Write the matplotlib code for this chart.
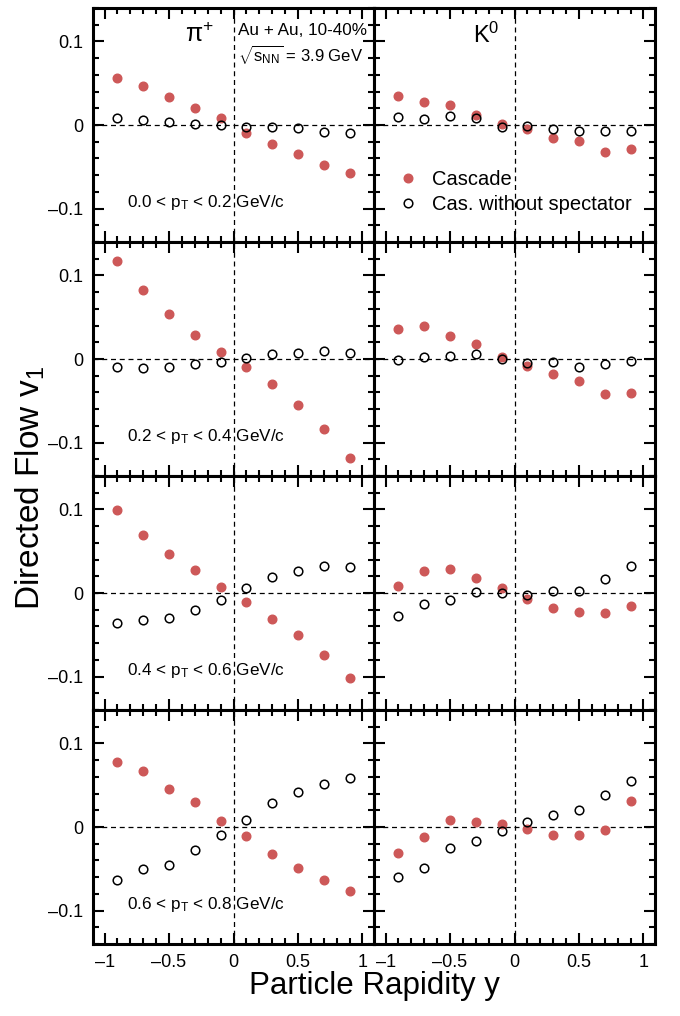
import matplotlib
matplotlib.use("Agg")
import matplotlib.pyplot as plt
from matplotlib.ticker import MultipleLocator, FuncFormatter

plt.rcParams['font.family'] = ['Liberation Sans', 'DejaVu Sans']
plt.rcParams['mathtext.fontset'] = 'custom'
plt.rcParams['mathtext.rm'] = 'Liberation Sans'
plt.rcParams['mathtext.it'] = 'Liberation Sans:italic'
plt.rcParams['mathtext.bf'] = 'Liberation Sans:bold'

# ---------------- data ----------------
rapidity = [-0.9, -0.7, -0.5, -0.3, -0.1, 0.1, 0.3, 0.5, 0.7, 0.9]
pt_bins = ["0.0 < p$_{\\rm T}$ < 0.2 GeV/c", "0.2 < p$_{\\rm T}$ < 0.4 GeV/c",
           "0.4 < p$_{\\rm T}$ < 0.6 GeV/c", "0.6 < p$_{\\rm T}$ < 0.8 GeV/c"]
particles = ["\u03c0$^{+}$", "K$^{0}$"]
series_labels = ["Cascade", "Cas. without spectator"]

# pi+ , Cascade (per pT bin)
pi_cas_pt0 = [0.0557, 0.0461, 0.0338, 0.0199, 0.0084, -0.0091, -0.0231, -0.0342, -0.0473, -0.0577]
pi_cas_pt1 = [0.1173, 0.0831, 0.0533, 0.0282, 0.0084, -0.0095, -0.0298, -0.0545, -0.0843, -0.1185]
pi_cas_pt2 = [0.0994, 0.0696, 0.0461, 0.0274, 0.0076, -0.0103, -0.0306, -0.0501, -0.0736, -0.1014]
pi_cas_pt3 = [0.0783, 0.0672, 0.0457, 0.0298, 0.0076, -0.0107, -0.0318, -0.0489, -0.0640, -0.0767]
# pi+ , Cascade without spectator
pi_nos_pt0 = [0.0087, 0.0060, 0.0040, 0.0016, 0.0000, -0.0020, -0.0024, -0.0040, -0.0080, -0.0100]
pi_nos_pt1 = [-0.0091, -0.0111, -0.0095, -0.0060, -0.0036, 0.0016, 0.0056, 0.0076, 0.0091, 0.0076]
pi_nos_pt2 = [-0.0362, -0.0318, -0.0302, -0.0207, -0.0083, 0.0060, 0.0191, 0.0258, 0.0326, 0.0314]
pi_nos_pt3 = [-0.0632, -0.0501, -0.0453, -0.0274, -0.0095, 0.0083, 0.0282, 0.0414, 0.0517, 0.0584]
# K0 , Cascade
k_cas_pt0 = [0.0350, 0.0270, 0.0235, 0.0120, 0.0016, -0.0050, -0.0155, -0.0187, -0.0318, -0.0282]
k_cas_pt1 = [0.0362, 0.0390, 0.0278, 0.0183, 0.0020, -0.0080, -0.0179, -0.0266, -0.0414, -0.0410]
k_cas_pt2 = [0.0083, 0.0258, 0.0286, 0.0179, 0.0056, -0.0072, -0.0183, -0.0223, -0.0235, -0.0159]
k_cas_pt3 = [-0.0310, -0.0115, 0.0083, 0.0064, 0.0040, -0.0028, -0.0095, -0.0095, -0.0040, 0.0310]
# K0 , Cascade without spectator
k_nos_pt0 = [0.0091, 0.0076, 0.0110, 0.0080, -0.0024, -0.0008, -0.0044, -0.0072, -0.0076, -0.0072]
k_nos_pt1 = [-0.0016, 0.0020, 0.0036, 0.0056, 0.0004, -0.0044, -0.0040, -0.0099, -0.0056, -0.0024]
k_nos_pt2 = [-0.0270, -0.0135, -0.0080, 0.0016, -0.0004, -0.0020, 0.0024, 0.0024, 0.0167, 0.0322]
k_nos_pt3 = [-0.0600, -0.0489, -0.0250, -0.0163, -0.0044, 0.0064, 0.0143, 0.0203, 0.0378, 0.0549]

cascade = [[pi_cas_pt0, k_cas_pt0], [pi_cas_pt1, k_cas_pt1],
           [pi_cas_pt2, k_cas_pt2], [pi_cas_pt3, k_cas_pt3]]
nospec = [[pi_nos_pt0, k_nos_pt0], [pi_nos_pt1, k_nos_pt1],
          [pi_nos_pt2, k_nos_pt2], [pi_nos_pt3, k_nos_pt3]]

red = '#CD5858'

fig = plt.figure(figsize=(6.8, 10.16), dpi=100)
gs = fig.add_gridspec(4, 2, left=93/680, right=655/680, top=1-8/1016, bottom=1-944/1016,
                      wspace=0, hspace=0)

def fmt(v, pos):
    if abs(v) < 1e-9:
        return "0"
    s = ("%g" % v)
    return s.replace('-', '\u2013')

for r in range(4):
    for c in range(2):
        ax = fig.add_subplot(gs[r, c])
        ax.set_xlim(-1.09, 1.09)
        ax.set_ylim(-0.14, 0.14)
        ax.axhline(0, color='black', lw=0.9, ls=(0, (4, 3)), zorder=1)
        ax.axvline(0, color='black', lw=0.9, ls=(0, (4, 3)), zorder=1)
        ax.plot(rapidity, cascade[r][c], 'o', color=red, ms=6.2, mec=red, zorder=3,
                label=series_labels[0])
        ax.plot(rapidity, nospec[r][c], 'o', mfc='none', mec='black', mew=1.1, ms=6.2,
                zorder=4, label=series_labels[1])
        ax.xaxis.set_major_locator(MultipleLocator(0.5))
        ax.xaxis.set_minor_locator(MultipleLocator(0.1))
        ax.yaxis.set_major_locator(MultipleLocator(0.1))
        ax.yaxis.set_minor_locator(MultipleLocator(0.02))
        ax.xaxis.set_major_formatter(FuncFormatter(fmt))
        ax.yaxis.set_major_formatter(FuncFormatter(fmt))
        ax.tick_params(which='both', direction='in', top=True, right=True,
                       labelsize=13, width=1.5)
        ax.tick_params(which='major', length=8, pad=7)
        ax.tick_params(which='minor', length=4.5)
        for sp in ax.spines.values():
            sp.set_linewidth(2.2)
        if c == 1:
            ax.tick_params(labelleft=False)
        if r < 3:
            ax.tick_params(labelbottom=False)
        if c == 0:
            ax.text(0.121, 0.167, pt_bins[r], transform=ax.transAxes,
                    fontsize=12.3, va='center', ha='left')
        if r == 0:
            if c == 0:
                ax.text(0.38, 0.885, particles[0], transform=ax.transAxes,
                        fontsize=18, ha='center', va='center')
                ax.text(0.515, 0.905, "Au + Au, 10-40%", transform=ax.transAxes,
                        fontsize=12.3, ha='left', va='center')
                ax.text(0.515, 0.80, "$\\sqrt{\\mathrm{s}_{\\mathrm{NN}}}$ = 3.9 GeV",
                        transform=ax.transAxes, fontsize=12, ha='left', va='center')
            else:
                ax.text(0.40, 0.885, particles[1], transform=ax.transAxes,
                        fontsize=17, ha='center', va='center')
                ax.legend(loc='center left', bbox_to_anchor=(0.096, 0.2135), frameon=False,
                          fontsize=14.5, borderpad=0, borderaxespad=0, handlelength=0.7,
                          handletextpad=0.85, labelspacing=0.32)

fig.text(0.045, 0.52, "Directed Flow v$_{1}$", rotation=90, fontsize=24,
         ha='center', va='center')
fig.text(374/680, 0.030, "Particle Rapidity y", fontsize=22.5, ha='center', va='center')

fig.savefig("out.png", dpi=100)
